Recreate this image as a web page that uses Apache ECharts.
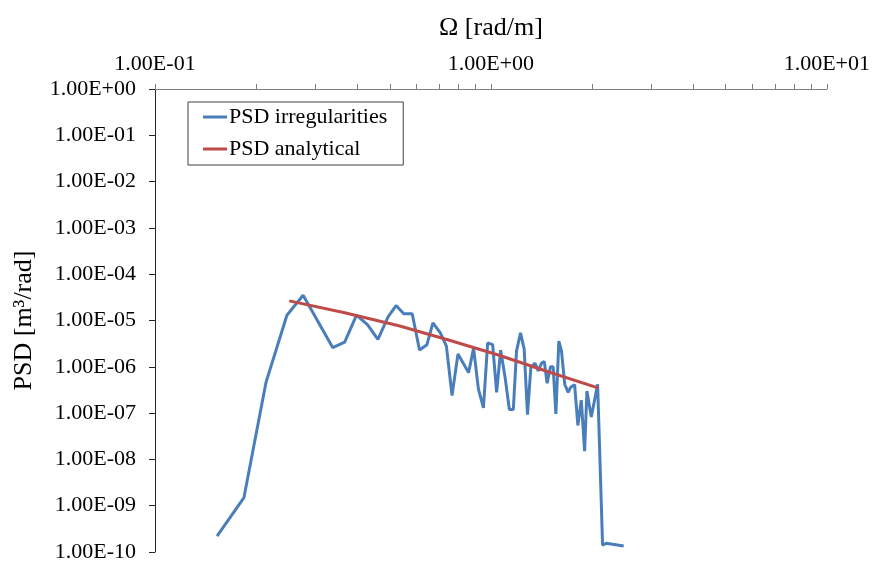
<!DOCTYPE html>
<html>
<head>
<meta charset="utf-8">
<title>PSD</title>
<script src="https://cdn.jsdelivr.net/npm/echarts@6/dist/echarts.min.js"></script>
<style>
  html, body { margin: 0; padding: 0; background: #fff; }
  #main { width: 873px; height: 563px; }
</style>
</head>
<body>
<div id="main"></div>
<script>
  // values
  const omega = [0.153, 0.184, 0.214, 0.247, 0.276, 0.338, 0.367, 0.398, 0.429, 0.461,
    0.494, 0.522, 0.550, 0.583, 0.613, 0.645, 0.672, 0.707, 0.737, 0.766,
    0.798, 0.858, 0.888, 0.918, 0.950, 0.978, 1.012, 1.040, 1.069, 1.102,
    1.135, 1.166, 1.192, 1.225, 1.256, 1.285, 1.315, 1.352, 1.383, 1.415,
    1.442, 1.470, 1.504, 1.532, 1.561, 1.593, 1.622, 1.659, 1.698, 1.727,
    1.775, 1.815, 1.858, 1.901, 1.931, 1.990, 2.078, 2.150, 2.205, 2.485]
  const psdIrregular = [2.2e-10, 1.5e-9, 4.6e-7, 1.3e-5, 3.5e-5, 2.6e-6, 3.4e-6, 1.3e-5, 8.1e-6, 3.9e-6,
    1.2e-5, 2.1e-5, 1.4e-5, 1.4e-5, 2.3e-6, 3.0e-6, 8.9e-6, 5.4e-6, 2.8e-6, 2.4e-7,
    1.9e-6, 7.5e-7, 2.5e-6, 3.3e-7, 1.3e-7, 3.3e-6, 3.0e-6, 2.8e-7, 2.3e-6, 5.9e-7,
    1.2e-7, 1.2e-7, 2.2e-6, 5.4e-6, 2.4e-6, 9.3e-8, 9.6e-7, 1.2e-6, 8.2e-7, 1.2e-6,
    1.3e-6, 4.4e-7, 1.0e-6, 1.0e-6, 9.6e-8, 3.6e-6, 2.2e-6, 4.2e-7, 2.8e-7, 3.6e-7,
    4.1e-7, 5.4e-8, 1.9e-7, 1.5e-8, 3.0e-7, 8.2e-8, 4.2e-7, 1.4e-10, 1.55e-10, 1.35e-10]

  const omegaAnalytical = [0.251, 0.367, 0.532, 0.748, 1.052, 1.480, 2.083]
  const psdAnalytical = [2.65e-5, 1.47e-5, 7.7e-6, 3.8e-6, 1.8e-6, 7.8e-7, 3.5e-7]

  const xLabelValues = [0.1, 1, 10]
  const xTickValues = [0.1, 0.2, 0.3, 0.4, 0.5, 0.6, 0.7, 0.8, 0.9,
    1, 2, 3, 4, 5, 6, 7, 8, 9, 10]
  const yTickValues = [1e-10, 1e-9, 1e-8, 1e-7, 1e-6, 1e-5, 1e-4, 1e-3, 1e-2, 1e-1, 1]

  const font = "'Liberation Serif', 'Times New Roman', serif"

  // 0.1 -> "1.00E-01"
  function sci(v) {
    const e = Math.round(Math.log10(v))
    const m = v / Math.pow(10, e)
    return m.toFixed(2) + 'E' + (e < 0 ? '-' : '+') + String(Math.abs(e)).padStart(2, '0')
  }

  function pairs(xs, ys) {
    return xs.map((x, i) => [x, ys[i]])
  }

  const chart = echarts.init(document.getElementById('main'))
  const option = {
    animation: false,
    backgroundColor: '#fff',
    textStyle: { fontFamily: font },
    grid: { left: 155, right: 43, top: 89, bottom: 7, containLabel: false },
    legend: {
      orient: 'vertical',
      left: 188,
      top: 102,
      padding: [4, 16, 5, 15],
      itemGap: 10,
      itemWidth: 24,
      itemHeight: 3,
      icon: 'rect',
      borderColor: '#404040',
      borderWidth: 1,
      borderRadius: 0,
      textStyle: { fontFamily: font, fontSize: 22, lineHeight: 22, color: '#000', padding: [0, 0, 0, -3] },
      data: ['PSD irregularities', 'PSD analytical']
    },
    xAxis: {
      type: 'log',
      logBase: 10,
      position: 'top',
      min: 0.1,
      max: 10,
      name: 'Ω [rad/m]',
      nameLocation: 'middle',
      nameGap: 48,
      nameTextStyle: { fontFamily: font, fontSize: 26, color: '#000' },
      axisLine: { show: true, lineStyle: { color: '#7f7f7f', width: 1 } },
      axisTick: { show: true, inside: false, length: 5, customValues: xTickValues,
        lineStyle: { color: '#7f7f7f' } },
      axisLabel: { customValues: xLabelValues, margin: 14, fontFamily: font, fontSize: 22,
        color: '#000', formatter: sci },
      splitLine: { show: false },
      minorTick: { show: false }
    },
    yAxis: {
      type: 'log',
      logBase: 10,
      min: 1e-10,
      max: 1,
      name: 'PSD [m³/rad]',
      nameLocation: 'middle',
      nameGap: 118,
      nameTextStyle: { fontFamily: font, fontSize: 26, color: '#000' },
      axisLine: { show: true, lineStyle: { color: '#262626', width: 1 } },
      axisTick: { show: true, inside: false, length: 6, customValues: yTickValues,
        lineStyle: { color: '#262626' } },
      axisLabel: { customValues: yTickValues, margin: 19, fontFamily: font, fontSize: 22,
        color: '#000', formatter: sci },
      splitLine: { show: false }
    },
    series: [
      {
        name: 'PSD irregularities',
        type: 'line',
        symbol: 'none',
        color: '#4a7ebb',
        lineStyle: { color: '#4a7ebb', width: 3 },
        data: pairs(omega, psdIrregular),
        z: 2
      },
      {
        name: 'PSD analytical',
        type: 'line',
        symbol: 'none',
        color: '#be4b48',
        lineStyle: { color: '#be4b48', width: 3 },
        data: pairs(omegaAnalytical, psdAnalytical),
        z: 3
      }
    ]
  }
  chart.setOption(option, true)
</script>
</body>
</html>
